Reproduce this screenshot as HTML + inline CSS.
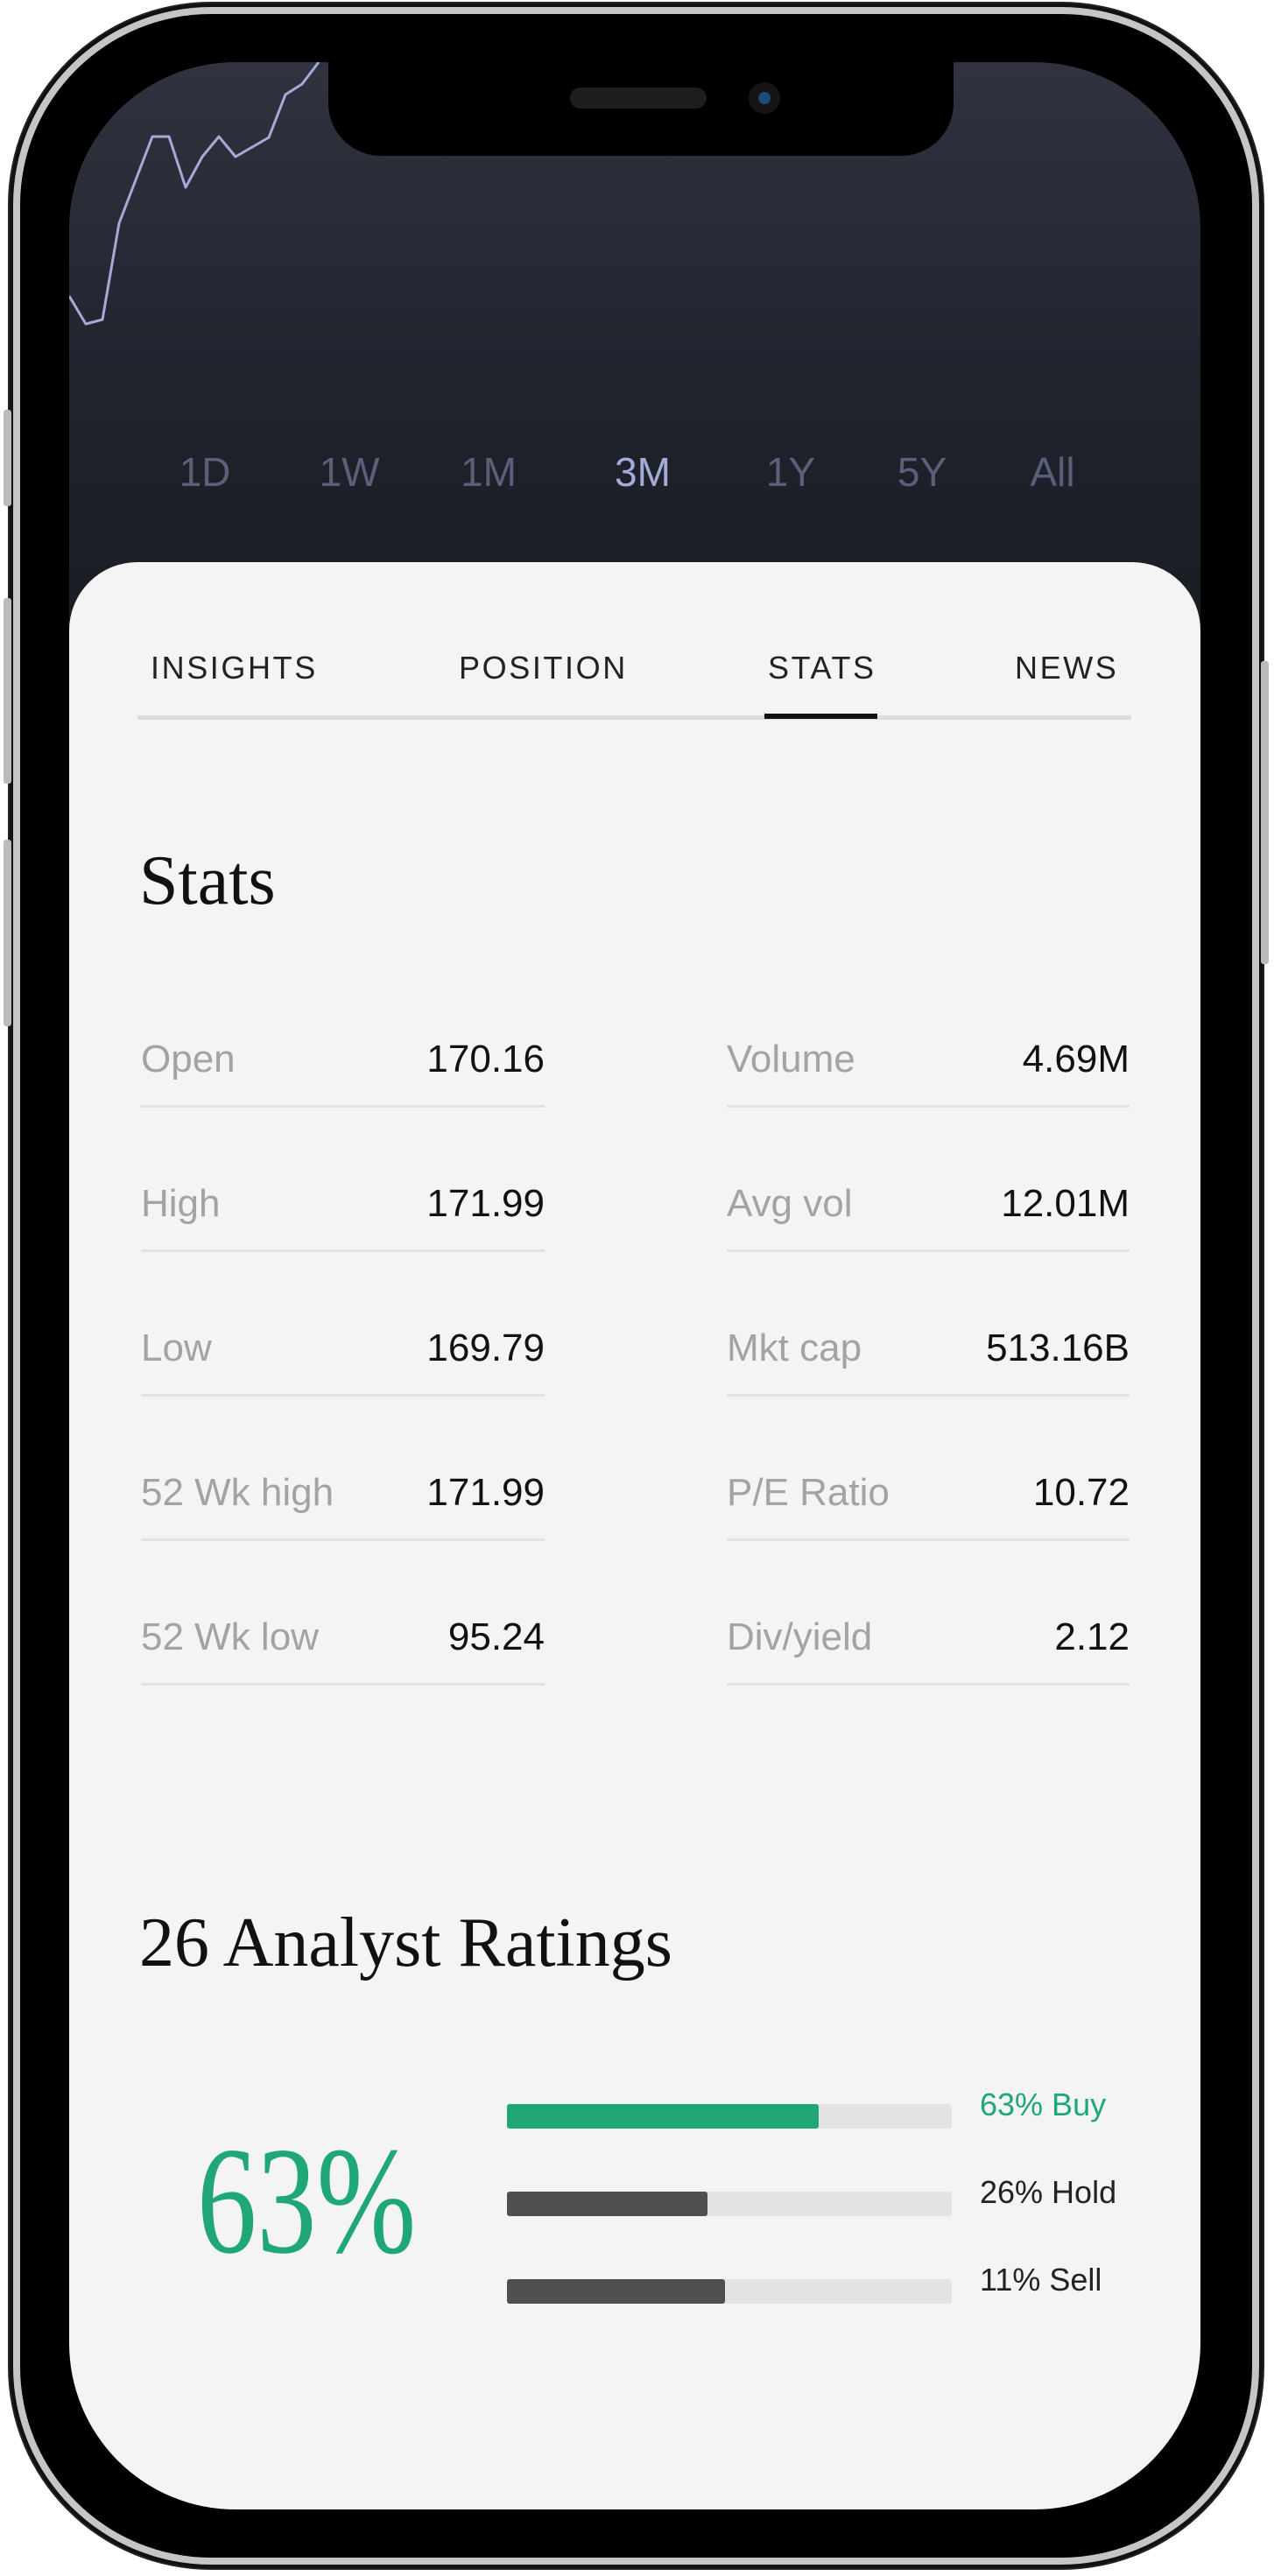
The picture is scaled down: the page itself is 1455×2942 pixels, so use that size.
<!DOCTYPE html>
<html><head><meta charset="utf-8"><style>
html,body{margin:0;padding:0;background:#fff;}
body{width:1455px;height:2942px;position:relative;overflow:hidden;font-family:"Liberation Sans",sans-serif;}
.abs{position:absolute;}
#outer{left:11px;top:4px;width:1431px;height:2929px;border-radius:230px;background:#111;box-shadow:0 0 0 2px #222;}
#silver{left:15px;top:8px;width:1423px;height:2921px;border-radius:226px;background:#c4c5c4;}
#bez{left:23px;top:16px;width:1407px;height:2905px;border-radius:218px;background:#000;}
#screen{left:79px;top:71px;width:1292px;height:2795px;border-radius:190px;overflow:hidden;background:linear-gradient(#30323f 0px,#1f222b 420px,#1a1c23 700px);}
#notch{left:296px;top:0;width:714px;height:107px;background:#000;border-radius:0 0 60px 60px;}
#sheet{left:0;top:571px;width:1292px;height:2300px;background:#f4f4f4;border-radius:78px 78px 0 0;}
.tf{top:441px;font-size:46px;color:#5a607a;transform:translateX(-50%);}
.tab{font-size:36px;letter-spacing:2.6px;color:#222;}
.lbl{font-size:44px;color:#a3a3a3;}
.val{font-size:44px;color:#111;text-align:right;}
.div{height:3px;background:#e2e2e2;}
.serif{font-family:"Liberation Serif",serif;color:#111;}
.track{height:28px;background:#e3e3e3;border-radius:3px;}
.fill{height:28px;border-radius:3px;}
.rl{font-size:36px;}
</style></head><body>
<div id="outer" class="abs"></div>
<div id="silver" class="abs"></div>
<div id="bez" class="abs"></div>
<div class="abs" style="left:4px;top:468px;width:9px;height:110px;background:#bbb;border-radius:3px"></div>
<div class="abs" style="left:4px;top:683px;width:9px;height:212px;background:#bbb;border-radius:3px"></div>
<div class="abs" style="left:4px;top:959px;width:9px;height:213px;background:#bbb;border-radius:3px"></div>
<div class="abs" style="left:1440px;top:755px;width:9px;height:346px;background:#bbb;border-radius:3px"></div>
<div id="screen" class="abs">
  <svg class="abs" style="left:0;top:0" width="1292" height="500">
    <polyline id="pline" fill="none" stroke="#a3aad6" stroke-width="3" stroke-linejoin="round"/>
  </svg>
  <div id="notch" class="abs">
    <div class="abs" style="left:276px;top:29px;width:156px;height:24px;border-radius:12px;background:#1e1e1e"></div>
    <div class="abs" style="left:480px;top:23px;width:36px;height:36px;border-radius:18px;background:#151515"><div class="abs" style="left:11px;top:11px;width:14px;height:14px;border-radius:7px;background:#1c4a7a"></div></div>
  </div>
  <div class="abs tf" style="left:155px">1D</div>
  <div class="abs tf" style="left:320px">1W</div>
  <div class="abs tf" style="left:479px">1M</div>
  <div class="abs tf" style="left:655px;color:#a3acd8">3M</div>
  <div class="abs tf" style="left:824px">1Y</div>
  <div class="abs tf" style="left:974px">5Y</div>
  <div class="abs tf" style="left:1123px">All</div>
  <div id="sheet" class="abs">
    <div class="abs tab" style="left:93px;top:100px">INSIGHTS</div>
    <div class="abs tab" style="left:445px;top:100px">POSITION</div>
    <div class="abs tab" style="left:798px;top:100px">STATS</div>
    <div class="abs tab" style="left:1080px;top:100px">NEWS</div>
    <div class="abs" style="left:78px;top:175px;width:1135px;height:5px;background:#dcdcdc"></div>
    <div class="abs" style="left:794px;top:173px;width:129px;height:6px;background:#111"></div>
    <div class="abs serif" style="left:80px;top:319px;font-size:80px">Stats</div>
    <div id="stats"></div>
    <div class="abs serif" style="left:80px;top:1532px;font-size:80px">26 Analyst Ratings</div>
    <div class="abs serif" style="left:146px;top:1771px;font-size:175px;color:#1fa776;transform:scaleX(0.78);transform-origin:left">63%</div>
    <div id="ratings"></div>
  </div>
</div>
<script>
// price chart data
const days = [0,1,2,3,5,6,7,8,9,10,12,13,14,15];
const prices = [131,115,117.5,172.5,222,222,193,210.5,222,210.5,221.5,246,252,264.5];
function xs(d){return 0 + d*19;}
function ys(p){return 329 - (p-100)*2;}
document.getElementById('pline').setAttribute('points', days.map((d,i)=>xs(d)+','+ys(prices[i])).join(' '));

// stats
const leftLabels = ['Open','High','Low','52 Wk high','52 Wk low'];
const leftValues = ['170.16','171.99','169.79','171.99','95.24'];
const rightLabels = ['Volume','Avg vol','Mkt cap','P/E Ratio','Div/yield'];
const rightValues = ['4.69M','12.01M','513.16B','10.72','2.12'];
const st = document.getElementById('stats');
function addRow(x, w, top, lab, val){
  const l = document.createElement('div');
  l.className='abs lbl'; l.style.left=x+'px'; l.style.top=top+'px'; l.textContent=lab;
  
  
  st.appendChild(l);
  const v = document.createElement('div');
  v.className='abs val'; v.style.left=x+'px'; v.style.width=w+'px'; v.style.top=top+'px'; v.textContent=val;
  
  
  st.appendChild(v);
  const d = document.createElement('div');
  d.className='abs div'; d.style.left=x+'px'; d.style.width=w+'px'; d.style.top=(top+77)+'px';
  
  
  st.appendChild(d);
}
for(let i=0;i<5;i++){
  const top = 543 + i*165;
  addRow(82, 461, top, leftLabels[i], leftValues[i]);
  addRow(751, 460, top, rightLabels[i], rightValues[i]);
}

// ratings
const ratingNames = ['Buy','Hold','Sell'];
const ratingPcts = [63,26,11];
const ratingFill = [0.70,0.45,0.49];
const ratingColors = ['#1fa776','#4f4f4f','#4f4f4f'];
const rt = document.getElementById('ratings');
const bx = 500, bw = 508;
for(let i=0;i<3;i++){
  const top = 1761 + i*100;
  const t = document.createElement('div');
  t.className='abs track'; t.style.left=bx+'px'; t.style.width=bw+'px'; t.style.top=top+'px';
  
  
  rt.appendChild(t);
  const f = document.createElement('div');
  f.className='abs fill'; f.style.left=bx+'px'; f.style.width=(bw*ratingFill[i])+'px'; f.style.top=top+'px'; f.style.background=ratingColors[i];
  
  
  rt.appendChild(f);
  const l = document.createElement('div');
  l.className='abs rl'; l.style.left='1040px'; l.style.top=(top-20)+'px';
  l.style.color = i===0 ? '#1fa776' : '#222';
  l.textContent = ratingPcts[i]+'% '+ratingNames[i];
  
  
  rt.appendChild(l);
}
</script>
</body></html>
